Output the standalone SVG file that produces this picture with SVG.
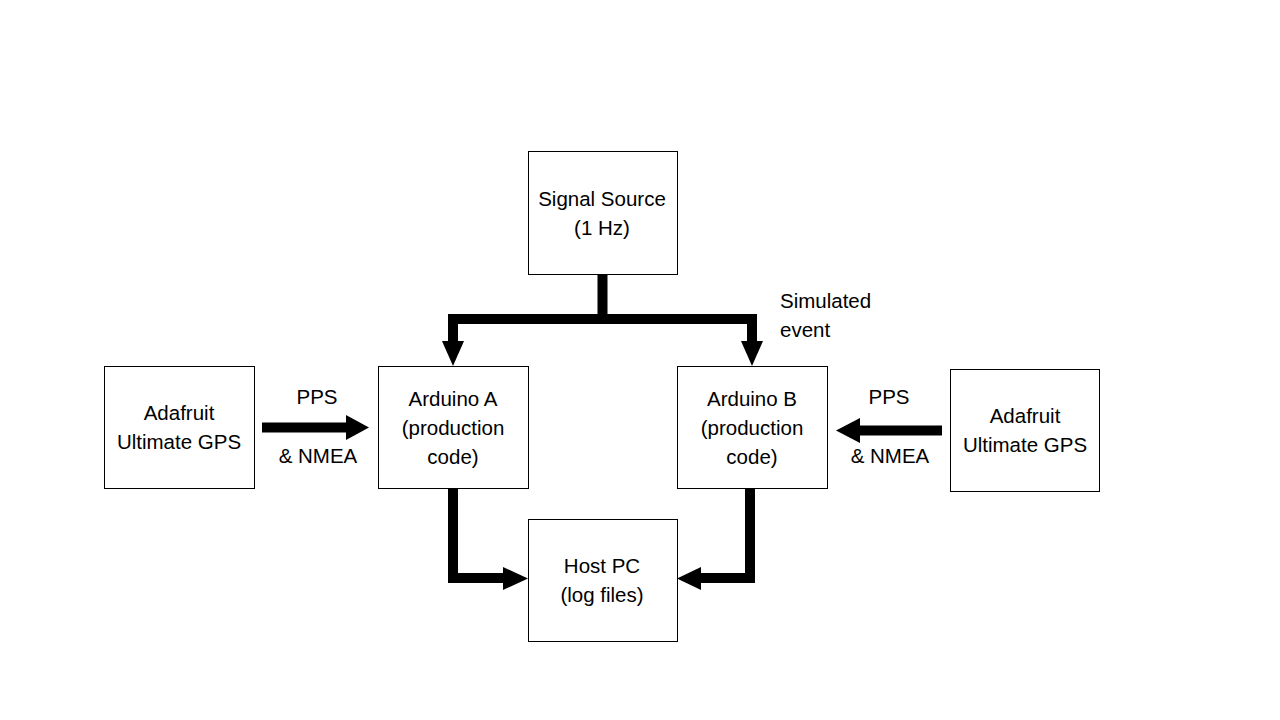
<svg xmlns="http://www.w3.org/2000/svg" width="1280" height="720" viewBox="0 0 1280 720">
<style>
.box{fill:#fff;stroke:#000;stroke-width:1}
.t{font-family:"Liberation Sans",Arial,sans-serif;font-size:20.5px;fill:#000;text-anchor:middle}
.l{font-family:"Liberation Sans",Arial,sans-serif;font-size:20.5px;fill:#000}
.c{fill:none;stroke:#000;stroke-width:10;stroke-linejoin:miter}
.ah{fill:#000}
</style>
<rect width="1280" height="720" fill="#fff"/>
<g id="connectors">
<path class="c" d="M602.5 274 V319 H453 V342"/>
<path class="c" d="M602.5 319 H752 V342"/>
<polygon class="ah" points="442,341 464,341 453,366"/>
<polygon class="ah" points="741,341 763,341 752,366"/>
<path class="c" d="M262 427.5 H347"/>
<polygon class="ah" points="346,415 346,440 369,427.5"/>
<path class="c" d="M942 430.5 H858"/>
<polygon class="ah" points="860,418 860,443 836,430.5"/>
<path class="c" d="M453 488 V578 H505"/>
<polygon class="ah" points="503,567 503,590 528,578.5"/>
<path class="c" d="M750 488 V578 H698"/>
<polygon class="ah" points="701,567 701,590 677,578.5"/>
</g>
<g id="signal-source">
<rect class="box" x="528.5" y="151.5" width="149" height="123"/>
<text class="t" x="602" y="206">Signal Source</text>
<text class="t" x="602" y="235">(1 Hz)</text>
</g>
<g id="arduino-a">
<rect class="box" x="378.5" y="366.5" width="150" height="122"/>
<text class="t" x="453" y="406">Arduino A</text>
<text class="t" x="453" y="435">(production</text>
<text class="t" x="453" y="464">code)</text>
</g>
<g id="arduino-b">
<rect class="box" x="677.5" y="366.5" width="150" height="122"/>
<text class="t" x="752" y="406">Arduino B</text>
<text class="t" x="752" y="435">(production</text>
<text class="t" x="752" y="464">code)</text>
</g>
<g id="gps-left">
<rect class="box" x="104.5" y="366.5" width="150" height="122"/>
<text class="t" x="179" y="420">Adafruit</text>
<text class="t" x="179" y="449">Ultimate GPS</text>
</g>
<g id="gps-right">
<rect class="box" x="950.5" y="369.5" width="149" height="122"/>
<text class="t" x="1025" y="423">Adafruit</text>
<text class="t" x="1025" y="452">Ultimate GPS</text>
</g>
<g id="host-pc">
<rect class="box" x="528.5" y="519.5" width="149" height="122"/>
<text class="t" x="602" y="573">Host PC</text>
<text class="t" x="602" y="602">(log files)</text>
</g>
<g id="labels">
<text class="t" x="317" y="404">PPS</text>
<text class="t" x="318" y="463">&amp; NMEA</text>
<text class="t" x="889" y="404">PPS</text>
<text class="t" x="890" y="463">&amp; NMEA</text>
<text class="l" x="780" y="308">Simulated</text>
<text class="l" x="780" y="337">event</text>
</g>
</svg>
